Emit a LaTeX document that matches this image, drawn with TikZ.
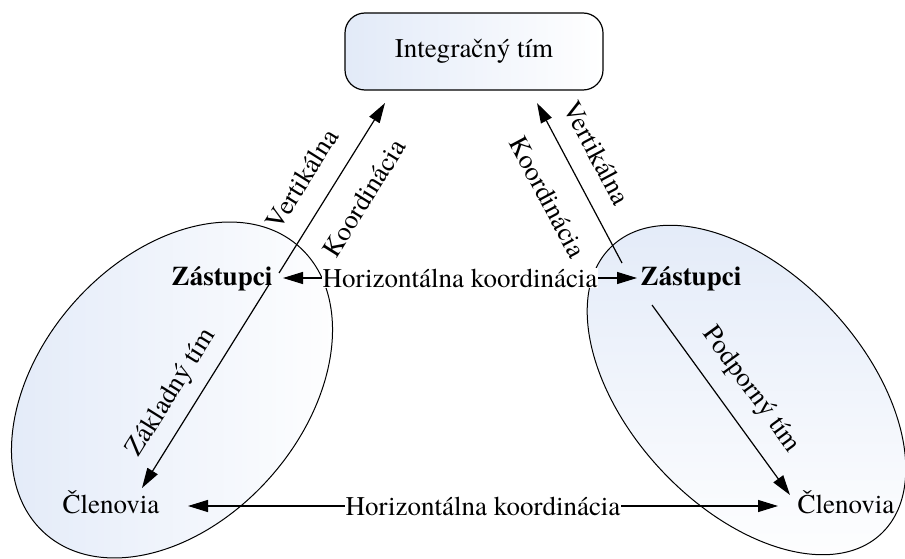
\documentclass[tikz,border=0pt]{standalone}
\usepackage{fontspec}
\IfFontExistsTF{texgyretermes-regular.otf}
  {\setmainfont{texgyretermes}[Extension=.otf, UprightFont=*-regular, BoldFont=*-bold, ItalicFont=*-italic, BoldItalicFont=*-bolditalic]}
  {\setmainfont{Liberation Serif}}
\usetikzlibrary{arrows.meta}
\definecolor{blu}{RGB}{226,234,248}
\begin{document}
\begin{tikzpicture}[x=1pt,y=1pt,
  lbl/.style={font=\fontsize{27}{32}\selectfont, inner sep=1pt},
  blbl/.style={font=\fontsize{27}{32}\selectfont\bfseries, inner sep=1pt},
  conn/.style={line width=1.2pt, -{Triangle[length=20pt,width=12pt]}},
  biconn/.style={line width=1.2pt, {Triangle[length=20pt,width=12pt]}-{Triangle[length=20pt,width=12pt]}},
  team/.style={draw=black, line width=1pt},
  box/.style={draw=black, line width=1.2pt, rounded corners=20pt, minimum width=258pt, minimum height=77pt, left color=blu, right color=white, font=\fontsize{27}{32}\selectfont}
]
\useasboundingbox (0,0) rectangle (905,558);
% team ellipses
\path[team, left color=blu, right color=white, rotate around={48.6:(172,168)}] (172,168) ellipse [x radius=191.6, y radius=131.4];
\path[team, top color=blu, bottom color=white, rotate around={-47:(746.5,168)}] (746.5,168) ellipse [x radius=197, y radius=117];
% nodes
\node[box] (it) at (474,506.5) {Integračný tím};
\node[blbl, anchor=base] (zl) at (222,273) {Zástupci};
\node[blbl, anchor=base] (zr) at (691,273) {Zástupci};
\node[lbl, anchor=base] (cl) at (111,45) {Členovia};
\node[lbl, anchor=base] (cr) at (846,45) {Členovia};
% connector end points
\coordinate (zlU) at (279,285);
\coordinate (itL) at (385,455);
\coordinate (zlD) at (270,275);
\coordinate (clT) at (142,70);
\coordinate (zrU) at (622,295);
\coordinate (itR) at (537,455);
\coordinate (zrD) at (652,253);
\coordinate (crT) at (790,63);
\coordinate (zlH) at (283,280);
\coordinate (zrH) at (637,280);
\coordinate (clH) at (188,52);
\coordinate (crH) at (778,52);
% connectors
\draw[conn] (zlU) -- (itL);
\draw[conn] (zrU) -- (itR);
\draw[conn] (zlD) -- (clT);
\draw[conn] (zrD) -- (crT);
\draw[biconn] (zlH) -- node[lbl, fill=white, inner xsep=0.5pt] (h1) {Horizontálna koordinácia} (zrH);
\draw[biconn] (clH) -- node[lbl, fill=white, inner xsep=0.5pt] (h2) {Horizontálna koordinácia} (crH);
% sloped labels
\node[lbl, rotate=58] (v1) at (302,379) {Vertikálna};
\node[lbl, rotate=58] (k1) at (364,360) {Koordinácia};
\node[lbl, rotate=-62] (v2) at (597,405) {Vertikálna};
\node[lbl, rotate=-62] (k2) at (548,361) {Koordinácia};
\node[lbl, rotate=58] (zt) at (172,165) {Základný tím};
\node[lbl, rotate=-54] (pt) at (751,168) {Podporný tím};
\end{tikzpicture}
\end{document}
